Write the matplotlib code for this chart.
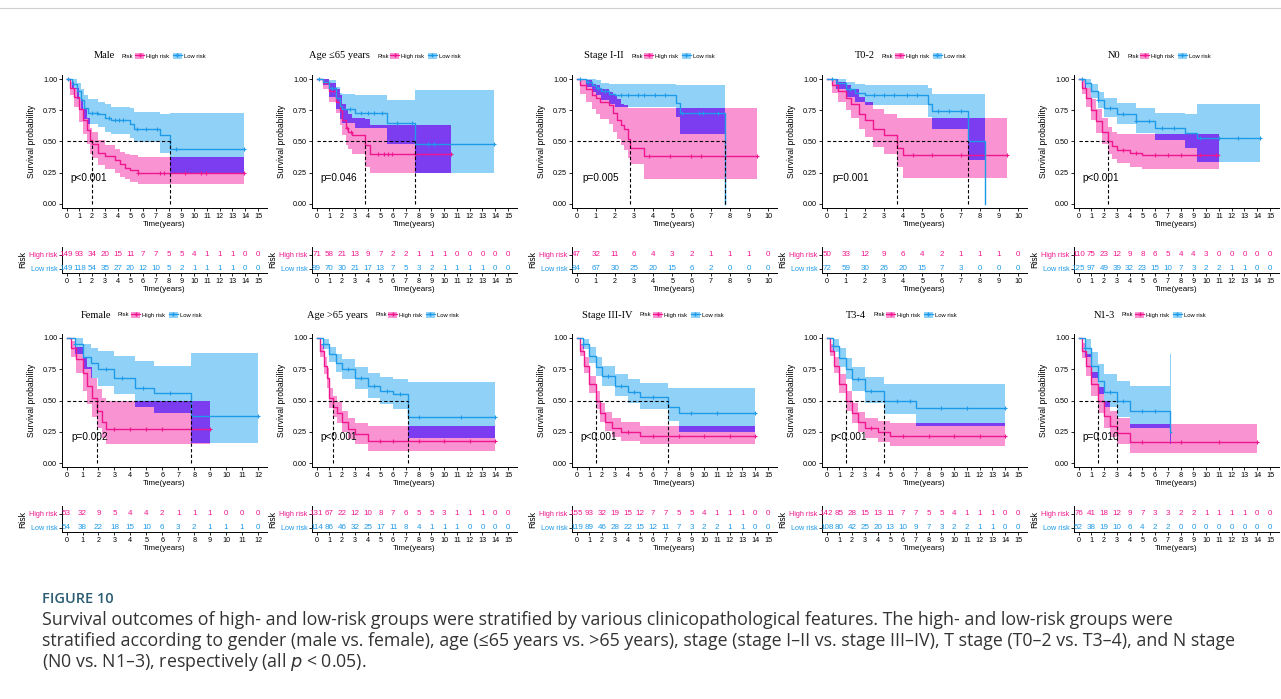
import numpy as np
import matplotlib.pyplot as plt
from matplotlib.patches import Patch
from matplotlib.lines import Line2D

# ---- data ----
# each group: step times, survival, lower CI, upper CI, censor times, numbers at risk

# Male
male_hi_t = [0, 0.3, 0.6, 1.0, 1.3, 1.6, 1.83, 2.0, 2.5, 3.0, 3.8, 4.2, 4.6, 5.0, 5.6, 13.9]
male_hi_s = [1, 0.93, 0.86, 0.76, 0.67, 0.59, 0.51, 0.48, 0.41, 0.38, 0.35, 0.32, 0.29, 0.27, 0.25, 0.25]
male_hi_lo = [1, 0.87, 0.78, 0.66, 0.56, 0.48, 0.40, 0.37, 0.31, 0.28, 0.25, 0.22, 0.20, 0.18, 0.16, 0.16]
male_hi_up = [1, 0.98, 0.93, 0.84, 0.76, 0.69, 0.61, 0.58, 0.51, 0.47, 0.44, 0.42, 0.40, 0.39, 0.38, 0.38]
male_hi_cens = [5.6, 7.3, 7.6, 9.3, 10.5, 10.9, 13.9]
male_lo_t = [0, 0.4, 0.8, 1.1, 1.4, 1.7, 2.5, 3.0, 3.5, 5.0, 5.3, 7.3, 8.1, 13.9]
male_lo_s = [1, 0.96, 0.9, 0.83, 0.77, 0.73, 0.72, 0.69, 0.67, 0.64, 0.60, 0.55, 0.44, 0.44]
male_lo_lo = [1, 0.92, 0.84, 0.75, 0.68, 0.64, 0.62, 0.58, 0.56, 0.53, 0.50, 0.41, 0.25, 0.25]
male_lo_up = [1, 1.0, 0.97, 0.92, 0.87, 0.84, 0.82, 0.80, 0.78, 0.77, 0.74, 0.72, 0.73, 0.73]
male_lo_cens = [0.1, 2.0, 2.4, 3.3, 3.8, 4.1, 4.4, 5.5, 6.2, 7.1, 8.6, 13.9]
male_hi_risk = [149, 93, 34, 20, 15, 11, 7, 7, 5, 5, 4, 1, 1, 1, 0, 0]
male_lo_risk = [149, 118, 54, 35, 27, 20, 12, 10, 5, 2, 1, 1, 1, 1, 0, 0]

# Age <=65
young_hi_t = [0, 0.5, 1.0, 1.5, 1.8, 2.0, 2.3, 2.5, 2.8, 3.8, 4.2, 10.5]
young_hi_s = [1, 0.97, 0.9, 0.82, 0.75, 0.67, 0.61, 0.58, 0.55, 0.47, 0.40, 0.40]
young_hi_lo = [1, 0.92, 0.82, 0.73, 0.63, 0.55, 0.47, 0.44, 0.40, 0.30, 0.25, 0.25]
young_hi_up = [1, 1.0, 0.97, 0.92, 0.87, 0.80, 0.75, 0.72, 0.69, 0.68, 0.63, 0.63]
young_hi_cens = [2.4, 2.7, 4.8, 5.3, 5.6, 5.9, 7.7, 10.5]
young_lo_t = [0, 0.5, 1.0, 1.5, 1.8, 2.0, 3.0, 5.5, 7.7, 13.9]
young_lo_s = [1, 0.98, 0.93, 0.85, 0.78, 0.76, 0.73, 0.65, 0.48, 0.48]
young_lo_lo = [1, 0.95, 0.86, 0.76, 0.68, 0.65, 0.61, 0.48, 0.25, 0.25]
young_lo_up = [1, 1.0, 0.99, 0.94, 0.89, 0.88, 0.87, 0.83, 0.91, 0.91]
young_lo_cens = [0.2, 1.2, 2.6, 3.5, 4.0, 4.5, 5.1, 6.3, 7.5, 8.7, 9.2, 13.9]
young_hi_risk = [71, 58, 21, 13, 9, 7, 2, 2, 1, 1, 1, 0, 0, 0, 0, 0]
young_lo_risk = [89, 70, 30, 21, 17, 13, 7, 5, 3, 2, 1, 1, 1, 1, 0, 0]

# Stage I-II
early_hi_t = [0, 0.2, 0.5, 0.8, 1.0, 1.2, 1.7, 1.9, 2.1, 2.3, 2.5, 2.7, 2.8, 3.5, 9.4]
early_hi_s = [1, 0.95, 0.92, 0.87, 0.85, 0.82, 0.79, 0.73, 0.67, 0.63, 0.60, 0.52, 0.45, 0.38, 0.38]
early_hi_lo = [1, 0.88, 0.82, 0.76, 0.72, 0.68, 0.64, 0.58, 0.52, 0.47, 0.43, 0.37, 0.32, 0.20, 0.20]
early_hi_up = [1, 1.0, 0.99, 0.96, 0.95, 0.92, 0.90, 0.87, 0.84, 0.80, 0.79, 0.77, 0.77, 0.77, 0.70]
early_hi_cens = [3.8, 4.9, 6.0, 6.5, 9.4]
early_lo_t = [0, 0.5, 0.8, 1.0, 1.3, 1.7, 2.0, 5.2, 5.4, 7.75]
early_lo_s = [1, 0.98, 0.95, 0.93, 0.90, 0.88, 0.87, 0.81, 0.73, 0.0]
early_lo_lo = [1, 0.94, 0.90, 0.87, 0.83, 0.80, 0.78, 0.70, 0.56, 0.0]
early_lo_up = [1, 1.0, 1.0, 0.99, 0.97, 0.96, 0.96, 0.95, 0.95, 0.0]
early_lo_cens = [0.2, 0.6, 1.1, 1.5, 2.3, 2.7, 3.2, 3.5, 4.1, 4.6, 5.5, 6.4, 6.6, 7.4]
early_hi_risk = [47, 32, 11, 6, 4, 3, 2, 1, 1, 1, 0]
early_lo_risk = [84, 67, 30, 25, 20, 15, 6, 2, 0, 0, 0]

# T0-2
t02_hi_t = [0, 0.3, 0.6, 1.0, 1.3, 1.7, 2.0, 2.4, 3.0, 3.7, 4.0, 9.4]
t02_hi_s = [1, 0.95, 0.90, 0.85, 0.80, 0.72, 0.67, 0.60, 0.55, 0.45, 0.39, 0.39]
t02_hi_lo = [1, 0.89, 0.82, 0.75, 0.69, 0.60, 0.54, 0.46, 0.40, 0.30, 0.21, 0.21]
t02_hi_up = [1, 1.0, 0.98, 0.95, 0.92, 0.86, 0.82, 0.76, 0.72, 0.69, 0.69, 0.69]
t02_hi_cens = [4.5, 5.5, 7.0, 9.4]
t02_lo_t = [0, 0.5, 1.0, 1.5, 2.0, 5.3, 5.5, 7.4, 8.3]
t02_lo_s = [1, 0.97, 0.92, 0.89, 0.87, 0.80, 0.74, 0.50, 0.0]
t02_lo_lo = [1, 0.92, 0.86, 0.82, 0.79, 0.70, 0.60, 0.35, 0.0]
t02_lo_up = [1, 1.0, 0.98, 0.96, 0.95, 0.93, 0.88, 0.88, 0.0]
t02_lo_cens = [0.3, 1.2, 2.5, 3.0, 3.5, 4.2, 4.7, 5.8, 6.4, 7.0]
t02_hi_risk = [50, 33, 12, 9, 6, 4, 2, 1, 1, 1, 0]
t02_lo_risk = [72, 59, 30, 26, 20, 15, 7, 3, 0, 0, 0]

# N0
n0_hi_t = [0, 0.3, 0.6, 1.0, 1.4, 1.8, 2.3, 2.6, 3.0, 4.0, 5.0, 11.0]
n0_hi_s = [1, 0.93, 0.85, 0.75, 0.66, 0.58, 0.50, 0.46, 0.43, 0.41, 0.39, 0.39]
n0_hi_lo = [1, 0.88, 0.78, 0.67, 0.57, 0.48, 0.40, 0.36, 0.33, 0.30, 0.28, 0.28]
n0_hi_up = [1, 0.99, 0.93, 0.84, 0.76, 0.69, 0.62, 0.58, 0.56, 0.56, 0.56, 0.56]
n0_hi_cens = [3.5, 4.5, 6.0, 7.0, 8.0, 9.5, 10.8]
n0_lo_t = [0, 0.5, 1.0, 1.5, 2.0, 3.0, 4.5, 6.0, 8.3, 9.3, 14.2]
n0_lo_s = [1, 0.97, 0.90, 0.83, 0.77, 0.72, 0.66, 0.61, 0.57, 0.53, 0.53]
n0_lo_lo = [1, 0.93, 0.85, 0.77, 0.70, 0.64, 0.57, 0.51, 0.45, 0.34, 0.34]
n0_lo_up = [1, 1.0, 0.96, 0.90, 0.85, 0.81, 0.77, 0.73, 0.72, 0.80, 0.80]
n0_lo_cens = [0.3, 1.5, 2.5, 3.5, 4.5, 5.5, 6.5, 7.5, 9.5, 11.0, 12.5, 14.2]
n0_hi_risk = [110, 75, 23, 12, 9, 8, 6, 5, 4, 4, 3, 0, 0, 0, 0, 0]
n0_lo_risk = [125, 97, 49, 39, 32, 23, 15, 10, 7, 3, 2, 2, 1, 1, 0, 0]

# Female
female_hi_t = [0, 0.3, 0.6, 1.0, 1.3, 1.6, 1.9, 2.2, 2.5, 9.0]
female_hi_s = [1, 0.92, 0.83, 0.72, 0.62, 0.52, 0.42, 0.33, 0.27, 0.27]
female_hi_lo = [1, 0.85, 0.72, 0.58, 0.47, 0.37, 0.28, 0.20, 0.15, 0.15]
female_hi_up = [1, 0.98, 0.93, 0.85, 0.77, 0.68, 0.59, 0.52, 0.50, 0.50]
female_hi_cens = [3.0, 4.0, 5.0, 6.0, 9.0]
female_lo_t = [0, 0.5, 1.0, 1.5, 2.0, 3.0, 4.3, 5.5, 7.8, 12.0]
female_lo_s = [1, 0.95, 0.85, 0.80, 0.75, 0.68, 0.60, 0.56, 0.38, 0.38]
female_lo_lo = [1, 0.87, 0.75, 0.68, 0.62, 0.55, 0.45, 0.40, 0.16, 0.16]
female_lo_up = [1, 1.0, 0.95, 0.92, 0.90, 0.86, 0.82, 0.78, 0.88, 0.88]
female_lo_cens = [0.5, 2.5, 3.5, 4.8, 6.5, 12.0]
female_hi_risk = [53, 32, 9, 5, 4, 4, 2, 1, 1, 1, 0, 0, 0]
female_lo_risk = [54, 38, 22, 18, 15, 10, 6, 3, 2, 1, 1, 1, 0]

# Age >65
old_hi_t = [0, 0.3, 0.6, 0.8, 1.0, 1.3, 1.6, 2.0, 2.5, 3.0, 4.0, 14.0]
old_hi_s = [1, 0.90, 0.78, 0.68, 0.52, 0.45, 0.40, 0.33, 0.27, 0.23, 0.18, 0.18]
old_hi_lo = [1, 0.85, 0.71, 0.60, 0.44, 0.37, 0.32, 0.25, 0.19, 0.15, 0.10, 0.10]
old_hi_up = [1, 0.95, 0.85, 0.76, 0.60, 0.54, 0.49, 0.42, 0.36, 0.32, 0.30, 0.30]
old_hi_cens = [5.0, 6.0, 8.0, 10.0, 12.0, 14.0]
old_lo_t = [0, 0.5, 1.0, 1.5, 2.0, 3.0, 4.0, 5.0, 6.0, 7.2, 14.0]
old_lo_s = [1, 0.95, 0.87, 0.80, 0.75, 0.68, 0.62, 0.58, 0.55, 0.37, 0.37]
old_lo_lo = [1, 0.91, 0.81, 0.73, 0.67, 0.59, 0.52, 0.47, 0.43, 0.20, 0.20]
old_lo_up = [1, 0.99, 0.93, 0.87, 0.83, 0.77, 0.72, 0.69, 0.67, 0.65, 0.65]
old_lo_cens = [0.5, 2.5, 3.5, 4.5, 5.5, 6.5, 8.0, 11.3, 14.0]
old_hi_risk = [131, 67, 22, 12, 10, 8, 7, 6, 5, 5, 3, 1, 1, 1, 0, 0]
old_lo_risk = [114, 86, 46, 32, 25, 17, 11, 8, 4, 1, 1, 1, 0, 0, 0, 0]

# Stage III-IV
late_hi_t = [0, 0.3, 0.6, 1.0, 1.5, 1.8, 2.2, 2.8, 3.5, 5.0, 14.0]
late_hi_s = [1, 0.90, 0.78, 0.63, 0.50, 0.40, 0.33, 0.28, 0.25, 0.22, 0.22]
late_hi_lo = [1, 0.86, 0.72, 0.56, 0.43, 0.33, 0.26, 0.21, 0.18, 0.15, 0.15]
late_hi_up = [1, 0.95, 0.85, 0.70, 0.58, 0.48, 0.41, 0.36, 0.33, 0.30, 0.30]
late_hi_cens = [4.0, 6.0, 8.0, 10.0, 12.0, 14.0]
late_lo_t = [0, 0.5, 1.0, 1.5, 2.0, 3.0, 4.0, 5.0, 7.2, 8.0, 14.0]
late_lo_s = [1, 0.95, 0.86, 0.77, 0.70, 0.62, 0.57, 0.53, 0.45, 0.40, 0.40]
late_lo_lo = [1, 0.91, 0.80, 0.70, 0.62, 0.54, 0.48, 0.43, 0.34, 0.25, 0.25]
late_lo_up = [1, 0.99, 0.93, 0.85, 0.78, 0.71, 0.67, 0.64, 0.60, 0.60, 0.60]
late_lo_cens = [0.5, 2.5, 3.5, 4.5, 6.0, 9.0, 11.0, 14.0]
late_hi_risk = [155, 93, 32, 19, 15, 12, 7, 7, 5, 5, 4, 1, 1, 1, 0, 0]
late_lo_risk = [119, 89, 46, 28, 22, 15, 12, 11, 7, 3, 2, 2, 1, 1, 0, 0]

# T3-4
t34_hi_t = [0, 0.3, 0.6, 1.0, 1.5, 2.0, 2.5, 3.0, 4.0, 5.0, 14.0]
t34_hi_s = [1, 0.90, 0.78, 0.63, 0.50, 0.40, 0.33, 0.28, 0.25, 0.22, 0.22]
t34_hi_lo = [1, 0.86, 0.72, 0.56, 0.42, 0.32, 0.25, 0.20, 0.17, 0.14, 0.14]
t34_hi_up = [1, 0.95, 0.85, 0.71, 0.58, 0.48, 0.41, 0.36, 0.34, 0.32, 0.32]
t34_hi_cens = [3.5, 6.0, 8.0, 10.0, 12.0, 14.0]
t34_lo_t = [0, 0.5, 1.0, 1.5, 2.0, 3.0, 4.5, 7.0, 14.0]
t34_lo_s = [1, 0.94, 0.84, 0.75, 0.67, 0.58, 0.50, 0.44, 0.44]
t34_lo_lo = [1, 0.89, 0.77, 0.67, 0.58, 0.48, 0.39, 0.30, 0.30]
t34_lo_up = [1, 0.99, 0.92, 0.84, 0.77, 0.69, 0.63, 0.63, 0.63]
t34_lo_cens = [0.5, 2.5, 3.5, 5.5, 6.5, 9.0, 11.0, 14.0]
t34_hi_risk = [142, 85, 28, 15, 13, 11, 7, 7, 5, 5, 4, 1, 1, 1, 0, 0]
t34_lo_risk = [108, 80, 42, 25, 20, 13, 10, 9, 7, 3, 2, 2, 1, 1, 0, 0]

# N1-3
n13_hi_t = [0, 0.3, 0.6, 1.0, 1.5, 2.0, 2.5, 3.0, 4.0, 14.0]
n13_hi_s = [1, 0.90, 0.78, 0.63, 0.50, 0.38, 0.30, 0.24, 0.17, 0.17]
n13_hi_lo = [1, 0.84, 0.70, 0.54, 0.40, 0.28, 0.21, 0.15, 0.08, 0.08]
n13_hi_up = [1, 0.96, 0.87, 0.73, 0.61, 0.50, 0.42, 0.36, 0.31, 0.31]
n13_hi_cens = [5.0, 8.0, 11.0, 14.0]
n13_lo_t = [0, 0.5, 1.0, 1.5, 2.0, 3.0, 4.0, 7.2, 7.25]
n13_lo_s = [1, 0.92, 0.78, 0.66, 0.57, 0.50, 0.42, 0.25, 0.25]
n13_lo_lo = [1, 0.85, 0.68, 0.55, 0.45, 0.37, 0.28, 0.15, 0.15]
n13_lo_up = [1, 0.99, 0.89, 0.79, 0.71, 0.66, 0.62, 0.87, 0.87]
n13_lo_cens = [0.5, 2.5, 3.5, 5.0, 6.0]
n13_hi_risk = [76, 41, 18, 12, 9, 7, 3, 3, 2, 2, 1, 1, 1, 1, 0, 0]
n13_lo_risk = [52, 38, 19, 10, 6, 4, 2, 2, 0, 0, 0, 0, 0, 0, 0, 0]

titles = ["Male", "Age \u226465 years", "Stage I-II", "T0-2", "N0",
          "Female", "Age >65 years", "Stage III-IV", "T3-4", "N1-3"]
pvalues = ["p<0.001", "p=0.046", "p=0.005", "p=0.001", "p<0.001",
           "p=0.002", "p<0.001", "p<0.001", "p<0.001", "p=0.010"]
xmaxes = [15, 15, 10, 10, 15, 12, 15, 15, 15, 15]

groups = [
    (male_hi_t, male_hi_s, male_hi_lo, male_hi_up, male_hi_cens, male_hi_risk,
     male_lo_t, male_lo_s, male_lo_lo, male_lo_up, male_lo_cens, male_lo_risk),
    (young_hi_t, young_hi_s, young_hi_lo, young_hi_up, young_hi_cens, young_hi_risk,
     young_lo_t, young_lo_s, young_lo_lo, young_lo_up, young_lo_cens, young_lo_risk),
    (early_hi_t, early_hi_s, early_hi_lo, early_hi_up, early_hi_cens, early_hi_risk,
     early_lo_t, early_lo_s, early_lo_lo, early_lo_up, early_lo_cens, early_lo_risk),
    (t02_hi_t, t02_hi_s, t02_hi_lo, t02_hi_up, t02_hi_cens, t02_hi_risk,
     t02_lo_t, t02_lo_s, t02_lo_lo, t02_lo_up, t02_lo_cens, t02_lo_risk),
    (n0_hi_t, n0_hi_s, n0_hi_lo, n0_hi_up, n0_hi_cens, n0_hi_risk,
     n0_lo_t, n0_lo_s, n0_lo_lo, n0_lo_up, n0_lo_cens, n0_lo_risk),
    (female_hi_t, female_hi_s, female_hi_lo, female_hi_up, female_hi_cens, female_hi_risk,
     female_lo_t, female_lo_s, female_lo_lo, female_lo_up, female_lo_cens, female_lo_risk),
    (old_hi_t, old_hi_s, old_hi_lo, old_hi_up, old_hi_cens, old_hi_risk,
     old_lo_t, old_lo_s, old_lo_lo, old_lo_up, old_lo_cens, old_lo_risk),
    (late_hi_t, late_hi_s, late_hi_lo, late_hi_up, late_hi_cens, late_hi_risk,
     late_lo_t, late_lo_s, late_lo_lo, late_lo_up, late_lo_cens, late_lo_risk),
    (t34_hi_t, t34_hi_s, t34_hi_lo, t34_hi_up, t34_hi_cens, t34_hi_risk,
     t34_lo_t, t34_lo_s, t34_lo_lo, t34_lo_up, t34_lo_cens, t34_lo_risk),
    (n13_hi_t, n13_hi_s, n13_hi_lo, n13_hi_up, n13_hi_cens, n13_hi_risk,
     n13_lo_t, n13_lo_s, n13_lo_lo, n13_lo_up, n13_lo_cens, n13_lo_risk),
]

caption_head = "FIGURE 10"
caption_lines = [
    "Survival outcomes of high- and low-risk groups were stratified by various clinicopathological features. The high- and low-risk groups were",
    "stratified according to gender (male vs. female), age (\u226465 years vs. >65 years), stage (stage I\u2013II vs. stage III\u2013IV), T stage (T0\u20132 vs. T3\u20134), and N stage",
    "(N0 vs. N1\u20133), respectively (all $p$ < 0.05).",
]

# ---- style ----
PINK = "#f0168e"
PINK_FILL = "#f993d2"
BLUE = "#1e9ae8"
BLUE_FILL = "#90d2f7"
PURPLE = "#7c3cf0"
SANS = "Liberation Sans"
SERIF = "Liberation Serif"

W, H = 1281, 699
fig = plt.figure(figsize=(W / 100, H / 100), dpi=100)


def box(x0, y0, x1, y1):
    # pixel box (top-left origin) -> figure fraction rect
    return [x0 / W, 1 - y1 / H, (x1 - x0) / W, (y1 - y0) / H]


def step_at(t, v, x):
    t = np.asarray(t, float)
    v = np.asarray(v, float)
    idx = np.clip(np.searchsorted(t, x, side="right") - 1, 0, len(t) - 1)
    return v[idx]


def median_of(t, s):
    for ti, si in zip(t, s):
        if si <= 0.5:
            return ti
    return None


col_x = [62, 312, 572, 822, 1074]
row_y = [0, 259]
risk_x = [122, 377, 631, 882, 1127, 118, 375, 640, 873, 1122]

for k, g in enumerate(groups):
    (ht, hs, hlo, hup, hc, hr, lt, ls, llo, lup, lc, lr) = g
    r, c = divmod(k, 5)
    x0 = col_x[c]
    dy = row_y[r]
    xmax = xmaxes[k]
    xlim = (-0.024 * xmax, xmax * 1.047)

    ax = fig.add_axes(box(x0, 75 + dy, x0 + 205, 208 + dy))
    ax.fill_between(ht, hlo, hup, step="post", color=PINK_FILL, lw=0)
    ax.fill_between(lt, llo, lup, step="post", color=BLUE_FILL, lw=0)
    # overlap of the two confidence bands
    end = min(ht[-1], lt[-1])
    grid = np.array(sorted(set([x for x in ht + lt if x <= end] + [end])))
    olo = np.maximum(step_at(ht, hlo, grid), step_at(lt, llo, grid))
    oup = np.minimum(step_at(ht, hup, grid), step_at(lt, lup, grid))
    ax.fill_between(grid, olo, np.maximum(oup, olo), step="post", color=PURPLE, lw=0)

    ax.step(ht, hs, where="post", color=PINK, lw=1.0)
    ax.step(lt, ls, where="post", color=BLUE, lw=1.0)
    ax.plot(hc, step_at(ht, hs, np.array(hc)), "+", color=PINK, ms=3.5, mew=0.8)
    ax.plot(lc, step_at(lt, ls, np.array(lc)), "+", color=BLUE, ms=3.5, mew=0.8)

    meds = [m for m in (median_of(ht, hs), median_of(lt, ls)) if m is not None]
    if meds:
        ax.plot([0, max(meds)], [0.5, 0.5], ls=(0, (3, 2)), color="black", lw=0.8)
        for m in meds:
            ax.plot([m, m], [0, 0.5], ls=(0, (3, 2)), color="black", lw=0.8)

    ax.text(0.3, 0.21, pvalues[k], fontsize=7.2, family=SANS, color="black", va="center")
    ax.set_xlim(*xlim)
    ax.set_ylim(-0.032, 1.032)
    ax.set_xticks(range(0, xmax + 1))
    ax.set_yticks([0, 0.25, 0.5, 0.75, 1.0])
    ax.set_yticklabels(["0.00", "0.25", "0.50", "0.75", "1.00"])
    ax.tick_params(labelsize=5.2, length=2, width=0.6, pad=1.5)
    for lab in ax.get_xticklabels() + ax.get_yticklabels():
        lab.set_family(SANS)
    for sp in ("top", "right"):
        ax.spines[sp].set_visible(False)
    for sp in ("left", "bottom"):
        ax.spines[sp].set_linewidth(0.7)
    ax.set_xlabel("Time(years)", fontsize=5.8, family=SANS, labelpad=0.5)
    ax.set_ylabel("Survival probability", fontsize=6.2, family=SANS, labelpad=5)

    # title and legend
    rx = risk_x[k]
    fig.text((rx - 7) / W, 1 - (56 + dy) / H, titles[k], ha="right", va="center",
             fontsize=7.5, family=SERIF)
    fig.text(rx / W, 1 - (56 + dy) / H, "Risk", ha="left", va="center",
             fontsize=4.2, family=SANS)
    handles = [(Patch(facecolor=PINK_FILL, lw=0), Line2D([], [], color=PINK, marker="+", ms=3.5, lw=0.9)),
               (Patch(facecolor=BLUE_FILL, lw=0), Line2D([], [], color=BLUE, marker="+", ms=3.5, lw=0.9))]
    fig.legend(handles, ["High risk", "Low risk"], loc="center left",
               bbox_to_anchor=((rx + 13) / W, 1 - (56 + dy) / H), ncol=2, frameon=False,
               prop={"family": SANS, "size": 4.2}, handlelength=1.6, handleheight=1.3,
               handletextpad=0.3, columnspacing=0.6, borderpad=0, borderaxespad=0)

    # risk table
    rax = fig.add_axes(box(x0, 247 + dy, x0 + 205, 273 + dy))
    for i in range(xmax + 1):
        rax.text(i, 1, str(hr[i]), color=PINK, ha="center", va="center", fontsize=5.8, family=SANS)
        rax.text(i, 0, str(lr[i]), color=BLUE, ha="center", va="center", fontsize=5.8, family=SANS)
    rax.set_xlim(*xlim)
    rax.set_ylim(-0.286, 1.571)
    rax.set_xticks(range(0, xmax + 1))
    rax.set_yticks([1, 0])
    rax.set_yticklabels(["High risk", "Low risk"])
    rax.get_yticklabels()[0].set_color(PINK)
    rax.get_yticklabels()[1].set_color(BLUE)
    rax.tick_params(labelsize=5.2, length=2, width=0.6, pad=1.5)
    for lab in rax.get_xticklabels() + rax.get_yticklabels():
        lab.set_family(SANS)
    for sp in ("top", "right"):
        rax.spines[sp].set_visible(False)
    for sp in ("left", "bottom"):
        rax.spines[sp].set_linewidth(0.7)
    rax.set_xlabel("Time(years)", fontsize=5.8, family=SANS, labelpad=0.5)
    rax.set_ylabel("Risk", fontsize=6.2, family=SANS, labelpad=1)

# caption
fig.add_artist(Line2D([0, 1], [1 - 8 / H, 1 - 8 / H], color="#d0d0d0", lw=0.8))
fig.text(42 / W, 1 - 599 / H, caption_head, fontsize=10.5, family="Open Sans",
         color="#2c5d73", va="center", weight="semibold")
for i, line in enumerate(caption_lines):
    fig.text(42 / W, 1 - (620 + 21 * i) / H, line, fontsize=12.8, family="Open Sans",
             color="#333333", va="center")

fig.savefig("out.png", dpi=100)
